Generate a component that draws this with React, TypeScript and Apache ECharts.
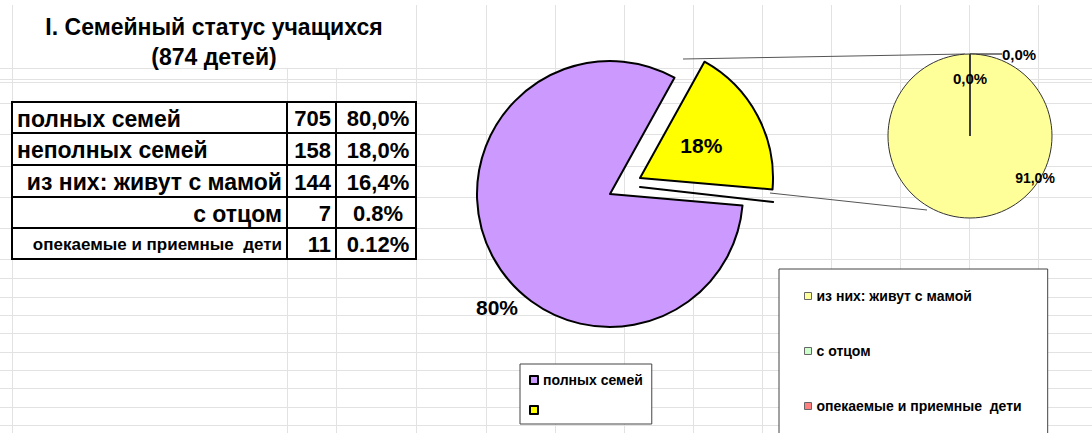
import React, { useEffect, useRef } from "react";
import * as echarts from "echarts";

// ---------- data ----------
const titleLines = ["I. Семейный статус учащихся", "(874 детей)"];

const tableLabels = [
  "полных семей",
  "неполных семей",
  "из них: живут с мамой",
  "с отцом",
  "опекаемые и приемные  дети",
];
const tableCounts = [705, 158, 144, 7, 11];
const tablePercents = ["80,0%", "18,0%", "16,4%", "0.8%", "0.12%"];

const mainNames = ["полных семей", " "];
const mainValues = [705, 158];
const mainLabels = ["80%", "18%"];

const subNames = ["из них: живут с мамой", "с отцом", "опекаемые и приемные  дети"];
const subValues = [144, 0, 0];
const subLabels = ["91,0%", "0,0%", "0,0%"];

// ---------- layout / style ----------
const W = 1092;
const H = 433;
const FONT = "'Liberation Sans', Arial, sans-serif";
const GRID_COLOR = "#e2e2e2";
const gridX = [12, 416, 486, 555, 624, 693, 762, 831, 900, 969, 1038];
const gridXLower = [287, 336];
const gridY = [68, 79, 82, 103, 134, 166, 197, 228, 259, 278, 297, 315, 333, 352, 370, 388, 407, 425];

const mainColors = ["#CC99FF", "#FFFF00"];
const subColors = ["#FFFF99", "#CCFFCC", "#FF8080"];

const mainLabelPos = [
  [497, 307],
  [703, 162],
];
const subLabelPos = [
  { x: 1035, y: 178, align: "center", size: 14 },
  { x: 1002, y: 54, align: "left", size: 15 },
  { x: 970, y: 78, align: "center", size: 15 },
];

function txt(text: string, x: number, y: number, size: number, align: string, z = 3) {
  return {
    type: "text",
    x,
    y,
    z,
    silent: true,
    style: {
      text,
      fill: "#000",
      font: `bold ${size}px ${FONT}`,
      align,
      verticalAlign: "middle",
      textAlign: align,
      textVerticalAlign: "middle",
    },
  };
}

function line(x1: number, y1: number, x2: number, y2: number, stroke: string, lw: number, z = 0) {
  return {
    type: "line",
    z,
    silent: true,
    shape: { x1, y1, x2, y2 },
    style: { stroke, lineWidth: lw },
  };
}

function buildGraphic() {
  const els: any[] = [];
  // spreadsheet grid
  gridX.forEach((x) => els.push(line(x + 0.5, 5, x + 0.5, H, GRID_COLOR, 1)));
  gridXLower.forEach((x) => els.push(line(x + 0.5, 68, x + 0.5, H, GRID_COLOR, 1)));
  gridY.forEach((y) => els.push(line(0, y + 0.5, W, y + 0.5, GRID_COLOR, 1)));

  // title
  els.push(txt(titleLines[0], 214, 27, 23, "center"));
  els.push(txt(titleLines[1], 214, 57, 23, "center"));

  // table
  const tx0 = 12, tx1 = 287, tx2 = 336, tx3 = 416;
  const rowsY = [102, 133, 165, 197, 228, 259];
  els.push({
    type: "rect",
    z: 1,
    silent: true,
    shape: { x: tx0, y: rowsY[0], width: tx3 - tx0, height: rowsY[5] - rowsY[0] },
    style: { fill: "#fff", stroke: "#000", lineWidth: 2 },
  });
  for (let i = 1; i < 5; i++) els.push(line(tx0, rowsY[i], tx3, rowsY[i], "#000", 2, 2));
  els.push(line(tx1, rowsY[0], tx1, rowsY[5], "#000", 2, 2));
  els.push(line(tx2, rowsY[0], tx2, rowsY[5], "#000", 2, 2));
  tableLabels.forEach((lab, i) => {
    const cy = (rowsY[i] + rowsY[i + 1]) / 2 + 1;
    const size = i === 4 ? 17 : 23;
    if (i < 2) els.push(txt(lab, 17, cy, size, "left"));
    else els.push(txt(lab, 282, cy, size, "right"));
    els.push(txt(String(tableCounts[i]), 331, cy, 22, "right"));
    els.push(txt(tablePercents[i], 378, cy, 22, "center"));
  });

  // series lines between the pies
  els.push(line(683, 59, 965, 54, "#555", 1, 1));
  els.push(line(770, 193, 927, 210, "#555", 1, 1));
  return els;
}

export default function App() {
  const ref = useRef<HTMLDivElement>(null);
  useEffect(() => {
    const chart = echarts.init(ref.current!, null, { renderer: "svg" });
    const option: any = {
      animation: false,
      backgroundColor: "#fff",
      graphic: { elements: buildGraphic() },
      legend: [
        {
          data: mainNames,
          orient: "vertical",
          left: 520,
          top: 364,
          padding: [9, 9, 7, 9],
          itemGap: 16,
          itemWidth: 8,
          itemHeight: 8,
          icon: "rect",
          selectedMode: false,
          backgroundColor: "#fff",
          borderColor: "#444",
          borderWidth: 1,
          borderRadius: 0,
          itemStyle: { borderColor: "#000", borderWidth: 2 },
          textStyle: { fontFamily: FONT, fontWeight: "bold", fontSize: 14, color: "#000", lineHeight: 14 },
        },
        {
          data: subNames,
          orient: "vertical",
          left: 779,
          top: 269,
          height: 160,
          padding: [20, 26, 30, 25],
          itemGap: 41,
          itemWidth: 7,
          itemHeight: 7,
          icon: "rect",
          selectedMode: false,
          backgroundColor: "#fff",
          borderColor: "#444",
          borderWidth: 1,
          borderRadius: 0,
          itemStyle: { borderColor: "#666", borderWidth: 1 },
          textStyle: { fontFamily: FONT, fontWeight: "bold", fontSize: 14, color: "#000", lineHeight: 14 },
        },
      ],
      series: [
        {
          type: "pie",
          z: 5,
          center: [610, 194],
          radius: 133,
          startAngle: 61,
          clockwise: false,
          selectedMode: "single",
          selectedOffset: 34,
          avoidLabelOverlap: false,
          emphasis: { disabled: true },
          itemStyle: { borderColor: "#000", borderWidth: 2 },
          data: mainNames.map((n, i) => ({
            name: n,
            value: mainValues[i],
            selected: i === 1,
            itemStyle: { color: mainColors[i] },
          })),
          label: {
            show: true,
            position: "inside",
            formatter: (p: any) => mainLabels[p.dataIndex],
            fontFamily: FONT,
            fontWeight: "bold",
            fontSize: 21,
            color: "#000",
          },
          labelLine: { show: false },
          labelLayout: (p: any) => ({
            x: mainLabelPos[p.dataIndex][0],
            y: mainLabelPos[p.dataIndex][1],
            align: "center",
            verticalAlign: "middle",
          }),
        },
        {
          // edge of the exploded composite part (zero-width slice)
          type: "pie",
          z: 4,
          silent: true,
          center: [640, 187],
          radius: 134,
          startAngle: 59.5,
          clockwise: false,
          avoidLabelOverlap: false,
          emphasis: { disabled: true },
          label: { show: false },
          labelLine: { show: false },
          data: [
            { name: "_e1", value: mainValues[0], itemStyle: { color: "rgba(0,0,0,0)", borderWidth: 0 } },
            { name: "_e2", value: 0, itemStyle: { color: "#000", borderColor: "#000", borderWidth: 2 } },
            { name: "_e3", value: mainValues[1], itemStyle: { color: "rgba(0,0,0,0)", borderWidth: 0 } },
          ],
        },
        {
          type: "pie",
          z: 5,
          center: [970, 136],
          radius: 82,
          startAngle: 90,
          clockwise: true,
          avoidLabelOverlap: false,
          emphasis: { disabled: true },
          itemStyle: { borderColor: "#333", borderWidth: 1 },
          data: subNames.map((n, i) => ({
            name: n,
            value: subValues[i],
            itemStyle: { color: subColors[i] },
            label: { fontSize: subLabelPos[i].size, position: i === 1 ? "outside" : "inside" },
            labelLine: { show: i === 1, length: 4, length2: 4, lineStyle: { color: "#000", width: 1 } },
          })),
          label: {
            show: true,
            position: "inside",
            formatter: (p: any) => subLabels[p.dataIndex],
            fontFamily: FONT,
            fontWeight: "bold",
            color: "#000",
          },
          labelLayout: (p: any) => ({
            x: subLabelPos[p.dataIndex].x,
            y: subLabelPos[p.dataIndex].y,
            align: subLabelPos[p.dataIndex].align,
            verticalAlign: "middle",
          }),
        },
      ],
    };
    chart.setOption(option);
    return () => chart.dispose();
  }, []);
  return (
    <div
      ref={ref}
      style={{ position: "absolute", left: 0, top: 0, width: W, height: H, background: "#fff" }}
    />
  );
}
